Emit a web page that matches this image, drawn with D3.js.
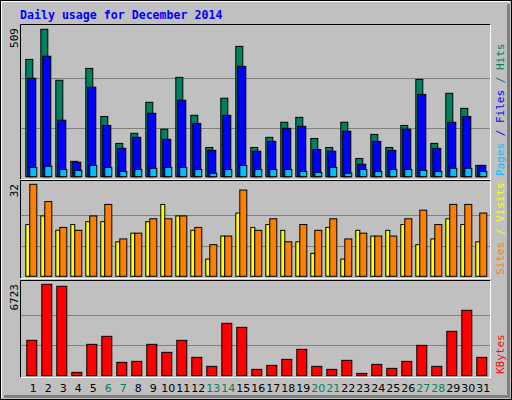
<!DOCTYPE html>
<html>
<head>
<meta charset="utf-8">
<script src="https://cdn.jsdelivr.net/npm/d3@7"></script>
<style>body{margin:0;background:#fff}</style>
</head>
<body>
<script>
// values
var days = d3.range(1, 32);
var weekends = [6, 7, 13, 14, 20, 21, 27, 28];
var hits   = [405,509,333,53,374,208,115,150,257,164,343,212,101,271,450,101,136,188,205,132,101,188,63,146,101,177,336,115,288,236,39];
var files  = [340,416,195,50,309,177,98,136,219,129,264,184,91,212,381,88,122,167,174,94,88,157,43,122,91,164,284,98,188,208,39];
var pages  = [32,36,25,22,39,32,18,25,29,32,32,25,12,25,39,25,25,25,18,15,32,12,25,18,25,25,22,18,29,29,18];
var sites  = [18,21,16,18,19,19,12,15,19,25,21,16,6,14,22,17,18,16,12,8,17,6,16,14,16,18,11,13,20,18,12];
var visits = [32,26,17,16,21,25,13,15,20,20,21,17,11,14,30,16,20,12,18,16,20,13,15,14,14,20,23,18,25,25,22];
var kbytes = [2601,6723,6577,245,2307,2896,982,1055,2307,1718,2601,1350,687,3853,3558,466,761,1202,1939,687,466,1129,172,834,540,1055,2233,687,3264,4810,1350];

var W = 512, H = 400;
var svg = d3.select("body").append("svg").attr("width", W).attr("height", H)
  .style("font-family", "DejaVu Sans Mono, monospace");

// outer box
svg.append("rect").attr("x", 0.5).attr("y", 0.5).attr("width", W-1).attr("height", H-1)
  .attr("fill", "#c0c0c0").attr("stroke", "#000");
svg.append("path").attr("d", "M1.5,398V1.5H510").attr("fill", "none").attr("stroke", "#fff");
svg.append("path").attr("d", "M4,396.5H508.5V4").attr("fill", "none").attr("stroke", "#808080").attr("stroke-width", 3);

svg.append("text").attr("x", 20).attr("y", 19).attr("fill", "#0000ff")
  .attr("font-size", "11.6px").attr("font-weight", "bold").text("Daily usage for December 2014");

var x = d3.scaleBand().domain(days).range([25.3, 490.3]).padding(0);

var panels = [
  { top: 24, bottom: 180, base: 176.7, peak: 29.3, max: 509,
    series: [[hits, "#00805c", 0, 7], [files, "#0000ff", 2, 8], [pages, "#00c0ff", 4, 7]],
    labels: [["Pages", "#00c0ff"], [" / ", "#0000ff"], ["Files", "#0000ff"], [" / ", "#00805c"], ["Hits", "#00805c"]] },
  { top: 180, bottom: 279, base: 276.3, peak: 184.3, max: 32,
    series: [[sites, "#ffff00", 0, 4], [visits, "#ff8000", 4, 7]],
    labels: [["Sites", "#ff8000"], [" / ", "#ffff00"], ["Visits", "#ffff00"]] },
  { top: 280, bottom: 378, base: 375.7, peak: 284.3, max: 6723,
    series: [[kbytes, "#ff0000", 1, 10]],
    labels: [["KBytes", "#ff0000"]] }
];

panels.forEach(function(p) {
  var y = d3.scaleLinear().domain([0, p.max]).range([p.base, p.peak]);
  var g = svg.append("g");
  // frame: dark top/left, light bottom/right
  g.append("path").attr("d", "M20.5," + (p.bottom-0.5) + "V" + (p.top+0.5) + "H490.5").attr("fill", "none").attr("stroke", "#000");
  g.append("path").attr("d", "M20.5," + (p.bottom-0.5) + "H490.5V" + (p.top+0.5)).attr("fill", "none").attr("stroke", "#fff");
  g.selectAll(".grid").data([p.max/3, p.max*2/3]).enter().append("line")
    .attr("x1", 21).attr("x2", 490).attr("y1", d => Math.round(y(d)) + 0.5).attr("y2", d => Math.round(y(d)) + 0.5)
    .attr("stroke", "#808080");
  p.series.forEach(function(s) {
    g.selectAll(null).data(s[0]).enter().append("rect")
      .attr("x", (d, i) => x(days[i]) + s[2] + 0.5)
      .attr("y", d => y(d))
      .attr("width", s[3])
      .attr("height", d => p.base - y(d))
      .attr("fill", s[1]).attr("stroke", "#000");
  });
  // max label
  svg.append("text").attr("transform", "translate(18," + (p.top + 4) + ") rotate(-90)")
    .attr("text-anchor", "end").attr("font-size", "11px").attr("fill", "#000").text(d3.format("d")(p.max));
  // right legend
  var t = svg.append("text").attr("transform", "translate(504," + (p.bottom - 4) + ") rotate(-90)")
    .attr("font-size", "11px");
  p.labels.forEach(function(l) { t.append("tspan").attr("fill", l[1]).text(l[0]); });
});

svg.selectAll(".day").data(days).enter().append("text")
  .attr("x", d => x(d) + 8).attr("y", 392).attr("text-anchor", "middle")
  .attr("font-size", "11px").attr("font-family", "DejaVu Sans, sans-serif")
  .attr("fill", d => weekends.indexOf(d) >= 0 ? "#00805c" : "#000").text(d => d);
</script>
</body>
</html>
